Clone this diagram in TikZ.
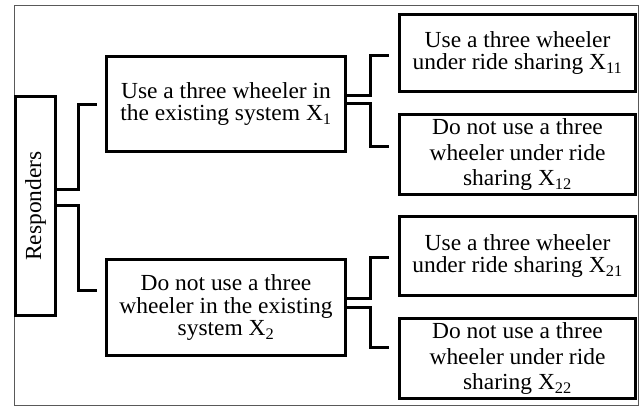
\documentclass[tikz,border=0pt]{standalone}
\usepackage{fontspec}
\setmainfont[FakeStretch=1.02]{Liberation Serif}
\begin{document}
\begin{tikzpicture}[x=1pt,y=-1pt,
  box/.style={draw, line width=3pt, align=center, inner sep=0pt,
    font=\fontsize{23}{22.5}\selectfont},
  wide/.style={font=\fontsize{23}{25.5}\selectfont},
  conn/.style={line width=3pt}]
\useasboundingbox (0,0) rectangle (639,408);
\draw[line width=1pt, black!65] (14,5) rectangle (638,405);

\node[box, minimum width=40pt, minimum height=219pt] (R) at (35.5,206)
  {\rotatebox{90}{Responders}};
\node[box, minimum width=239pt, minimum height=95pt] (B1) at (226,104)
  {Use a three wheeler in\\the existing system X\textsubscript{1}};
\node[box, minimum width=239pt, minimum height=96pt] (B2) at (226,307.5)
  {Do not use a three\\wheeler in the existing\\system X\textsubscript{2}};
\node[box, minimum width=236pt, minimum height=77pt] (X11) at (517.5,53)
  {Use a three wheeler\\under ride sharing X\textsubscript{11}};
\node[box, wide, minimum width=236pt, minimum height=80pt] (X12) at (517.5,154.5)
  {Do not use a three\\wheeler under ride\\sharing X\textsubscript{12}};
\node[box, minimum width=236pt, minimum height=79pt] (X21) at (517.5,256)
  {Use a three wheeler\\under ride sharing X\textsubscript{21}};
\node[box, wide, minimum width=236pt, minimum height=80pt] (X22) at (517.5,358.5)
  {Do not use a three\\wheeler under ride\\sharing X\textsubscript{22}};

% connectors from Responders
\draw[conn] (R.east |- 0,189) -| (78,104) -- ([xshift=-8pt]B1.west);
\draw[conn] (R.east |- 0,205) -| (78,290) -- ([shift={(-8pt,17.5pt)}]B2.west);
% connectors from B1
\draw[conn] (B1.east |- 0,95) -| (370,55) -- ([shift={(-9pt,-2pt)}]X11.west);
\draw[conn] (B1.east |- 0,103) -| (370,146) -- ([shift={(-9pt,8.5pt)}]X12.west);
% connectors from B2
\draw[conn] (B2.east |- 0,298) -| (370,257) -- ([shift={(-9pt,-1pt)}]X21.west);
\draw[conn] (B2.east |- 0,307) -| (370,347) -- ([shift={(-9pt,11.5pt)}]X22.west);
\end{tikzpicture}
\end{document}
